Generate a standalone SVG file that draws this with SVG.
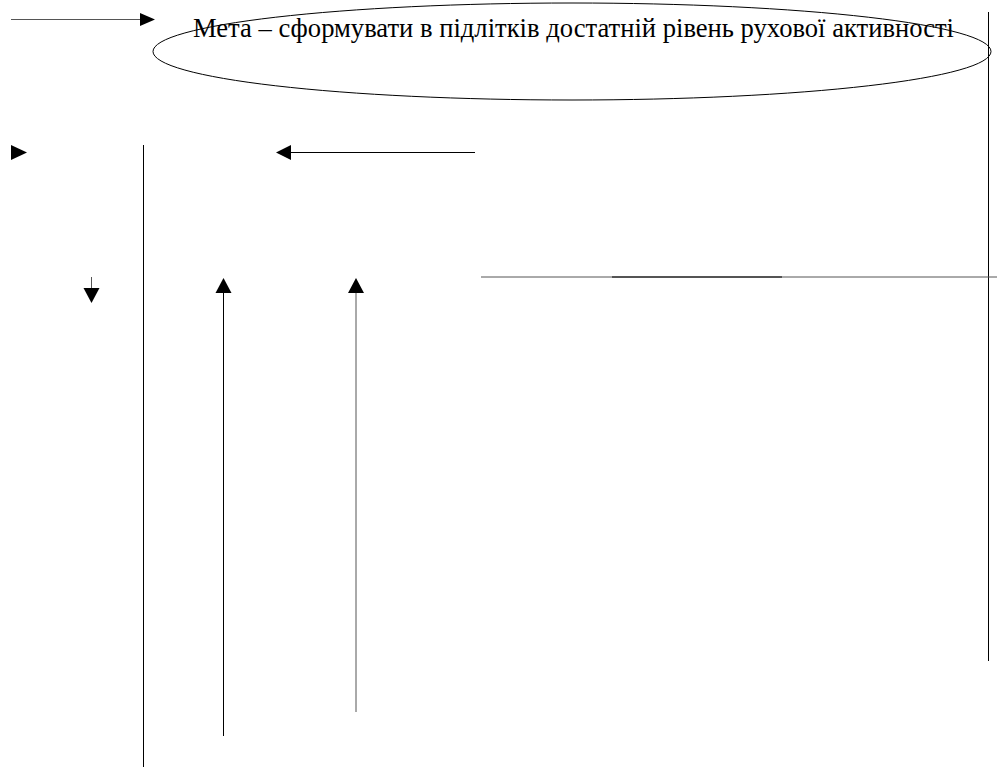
<svg xmlns="http://www.w3.org/2000/svg" width="997" height="767" viewBox="0 0 997 767">
<style>
.ln{stroke:#000;stroke-width:1;fill:none}
.gr{stroke:#555;stroke-width:1;fill:none}
.ah{fill:#000;stroke:none}
.lbl{font-family:'Liberation Serif','DejaVu Serif',serif;font-size:26.5px;fill:#000}
</style>
<rect width="997" height="767" fill="#fff"/>
<g id="goal">
<ellipse cx="572" cy="51.5" rx="419" ry="48.5" class="ln"/>
<text x="193" y="37" class="lbl" textLength="761" lengthAdjust="spacingAndGlyphs">Мета – сформувати в підлітків достатній рівень рухової активності</text>
</g>
<g id="connectors">
<line x1="11" y1="19.5" x2="141" y2="19.5" class="gr"/>
<polygon points="140,13 155,19.5 140,26" class="ah"/>
<line x1="988.5" y1="12" x2="988.5" y2="661" class="ln"/>
<polygon points="11,145 27,152.5 11,160" class="ah"/>
<line x1="143.5" y1="145" x2="143.5" y2="767" class="ln"/>
<line x1="290" y1="152.5" x2="475" y2="152.5" class="ln"/>
<polygon points="276,152.5 291,145 291,160" class="ah"/>
<line x1="91.5" y1="277" x2="91.5" y2="290" class="gr"/>
<polygon points="83.5,288 99.5,288 91.5,303" class="ah"/>
<line x1="223.5" y1="292" x2="223.5" y2="736" class="ln"/>
<polygon points="215.5,293 231.5,293 223.5,278" class="ah"/>
<line x1="356" y1="292" x2="356" y2="712" class="gr"/>
<polygon points="348,293 364,293 356,278" class="ah"/>
<line x1="481" y1="277" x2="997" y2="277" class="gr"/>
<line x1="612" y1="277" x2="782" y2="277" class="ln"/>
</g>
</svg>
